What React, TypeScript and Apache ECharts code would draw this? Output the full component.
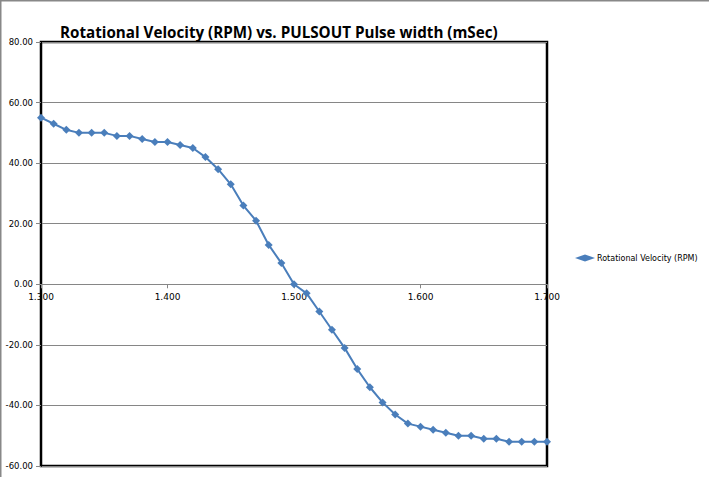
import React, { useEffect, useRef } from "react";
import * as echarts from "echarts";

const pulseWidths = [
  1.30, 1.31, 1.32, 1.33, 1.34, 1.35, 1.36, 1.37, 1.38, 1.39,
  1.40, 1.41, 1.42, 1.43, 1.44, 1.45, 1.46, 1.47, 1.48, 1.49,
  1.50, 1.51, 1.52, 1.53, 1.54, 1.55, 1.56, 1.57, 1.58, 1.59,
  1.60, 1.61, 1.62, 1.63, 1.64, 1.65, 1.66, 1.67, 1.68, 1.69, 1.70,
];
const rpmValues = [
  55, 53, 51, 50, 50, 50, 49, 49, 48, 47,
  47, 46, 45, 42, 38, 33, 26, 21, 13, 7,
  0, -3, -9, -15, -21, -28, -34, -39, -43, -46,
  -47, -48, -49, -50, -50, -51, -51, -52, -52, -52, -52,
];
const seriesName = "Rotational Velocity (RPM)";
const titleText = "Rotational Velocity (RPM) vs. PULSOUT Pulse width (mSec)";
const yMin = -60;
const yMax = 80;

export default function App() {
  const ref = useRef<HTMLDivElement>(null);
  useEffect(() => {
    if (!ref.current) return;
    const chart = echarts.init(ref.current, null, { renderer: "svg" });
    const tickFont = { fontFamily: "DejaVu Sans", fontSize: 8.5, color: "#000" };
    const gridTop = 42;
    const gridBottom = 11;
    const gridHeight = 477 - gridTop - gridBottom;
    const zeroOffset = (gridHeight * (0 - yMin)) / (yMax - yMin);
    chart.setOption({
      animation: false,
      backgroundColor: "#fff",
      title: {
        text: titleText,
        left: 55,
        top: 19,
        textStyle: { fontFamily: "Open Sans", fontWeight: "bold", fontSize: 15.2, color: "#000" },
      },
      legend: {
        data: [seriesName],
        left: 570,
        top: 249,
        itemWidth: 20,
        itemHeight: 7,
        itemGap: 2,
        textStyle: { fontFamily: "DejaVu Sans", fontSize: 8, color: "#000", padding: [0, 0, 0, -3] },
        icon: "diamond",
      },
      grid: {
        left: 41,
        right: 162,
        top: gridTop,
        bottom: gridBottom,
        show: true,
        borderColor: "#000",
        borderWidth: 2.5,
        containLabel: false,
      },
      xAxis: {
        type: "value",
        min: 1.3,
        max: 1.7,
        interval: 0.1,
        position: "bottom",
        offset: -zeroOffset,
        axisLine: { onZero: false, lineStyle: { color: "#868686", width: 1 } },
        axisTick: { show: true, inside: false, length: 4, lineStyle: { color: "#868686" } },
        axisLabel: { ...tickFont, fontSize: 9, margin: 8, formatter: (v: number) => v.toFixed(3) },
        splitLine: { show: false },
      },
      yAxis: {
        type: "value",
        min: yMin,
        max: yMax,
        interval: 20,
        axisLine: { show: true, lineStyle: { color: "#000", width: 2 } },
        axisTick: { show: true, length: 5, lineStyle: { color: "#868686" } },
        axisLabel: { ...tickFont, margin: 8, formatter: (v: number) => v.toFixed(2) },
        splitLine: { show: true, lineStyle: { color: "#868686", width: 1 } },
      },
      series: [
        {
          name: seriesName,
          type: "line",
          data: pulseWidths.map((x, i) => [x, rpmValues[i]]),
          symbol: "diamond",
          symbolSize: 8,
          lineStyle: { color: "#4a7ebb", width: 2 },
          itemStyle: { color: "#4a7ebb" },
        },
      ],
      graphic: [
        { type: "line", shape: { x1: 0.5, y1: 0, x2: 0.5, y2: 477 }, style: { stroke: "#888", lineWidth: 2 } },
        { type: "line", shape: { x1: 0, y1: 0.5, x2: 709, y2: 0.5 }, style: { stroke: "#888", lineWidth: 2 } },
      ],
    });
    return () => chart.dispose();
  }, []);
  return <div ref={ref} style={{ position: "absolute", left: 0, top: 0, width: 709, height: 477 }} />;
}
